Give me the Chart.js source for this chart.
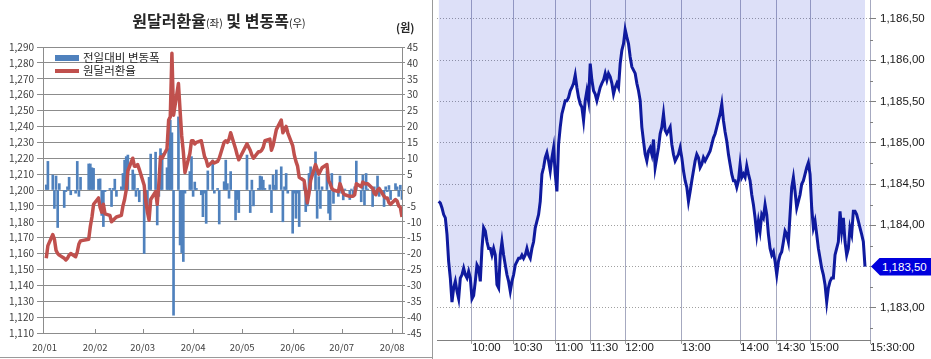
<!DOCTYPE html>
<html><head><meta charset="utf-8">
<script src="https://cdn.jsdelivr.net/npm/chart.js@4.4.1/dist/chart.umd.min.js"></script>
<style>
html,body{margin:0;padding:0;background:#fff;}
#wrap{position:relative;width:931px;height:359px;overflow:hidden;background:#fff;}
#L{position:absolute;left:0;top:0;width:433px;height:359px;}
#R{position:absolute;left:433px;top:0;width:498px;height:359px;}
canvas{display:block;}
.abs{position:absolute;white-space:nowrap;}
#title{left:0;top:8px;width:438px;text-align:center;font:bold 16px 'Noto Sans CJK KR',sans-serif;color:#262626;}
#title .s{font-size:10.5px;font-weight:normal;}
#unit{left:396px;top:19px;font:bold 11px 'Noto Sans CJK KR',sans-serif;color:#262626;}
.lg{font:11.5px 'Noto Sans CJK KR',sans-serif;color:#262626;}
#badge{left:871px;width:60px;height:18px;background:#0000dd;color:#fff;
 clip-path:polygon(0 50%,9px 0,100% 0,100% 100%,9px 100%);
 font:11.5px 'Liberation Sans',Arial,sans-serif;line-height:18px;padding-left:11px;box-sizing:border-box;}
</style></head><body>
<div id="wrap">
 <div id="L"><canvas id="cL" width="433" height="359"></canvas></div>
 <div id="R"><canvas id="cR" width="498" height="359"></canvas></div>
 <div class="abs" style="left:432px;top:0;width:1px;height:359px;background:#9a9a9a"></div>
 <div class="abs" style="left:0;top:357px;width:433px;height:1px;background:#9a9a9a"></div>
 <div class="abs" id="title">원달러환율<span class="s">(좌)</span> 및 변동폭<span class="s">(우)</span></div>
 <div class="abs" id="unit">(원)</div>
 <div class="abs" style="left:55px;top:55px;width:24px;height:6px;background:#4f81bd"></div>
 <div class="abs lg" style="left:83px;top:49px">전일대비 변동폭</div>
 <div class="abs" style="left:55px;top:69px;width:24px;height:3.5px;background:#c0504d"></div>
 <div class="abs lg" style="left:83px;top:62px">원달러환율</div>
 <div class="abs" id="badge">1,183,50</div>
</div>
<script>
// ---------- Left chart data ----------
const dates = [
 '01/02','01/03','01/06','01/07','01/08','01/09','01/10','01/13','01/14','01/15','01/16','01/17','01/20','01/21','01/22','01/23','01/28','01/29','01/30','01/31',
 '02/03','02/04','02/05','02/06','02/07','02/10','02/11','02/12','02/13','02/14','02/17','02/18','02/19','02/20','02/21','02/24','02/25','02/26','02/27','02/28',
 '03/02','03/03','03/04','03/05','03/06','03/09','03/10','03/11','03/12','03/13','03/16','03/17','03/18','03/19','03/20','03/23','03/24','03/25','03/26','03/27','03/30','03/31',
 '04/01','04/02','04/03','04/06','04/07','04/08','04/09','04/10','04/13','04/14','04/16','04/17','04/20','04/21','04/22','04/23','04/24','04/27','04/28','04/29',
 '05/04','05/06','05/07','05/08','05/11','05/12','05/13','05/14','05/15','05/18','05/19','05/20','05/21','05/22','05/25','05/26','05/27','05/28','05/29',
 '06/01','06/02','06/03','06/04','06/05','06/08','06/09','06/10','06/11','06/12','06/15','06/16','06/17','06/18','06/19','06/22','06/23','06/24','06/25','06/26','06/29','06/30',
 '07/01','07/02','07/03','07/06','07/07','07/08','07/09','07/10','07/13','07/14','07/15','07/16','07/17','07/20','07/21','07/22','07/23','07/24','07/27','07/28','07/29','07/30','07/31',
 '08/03','08/04','08/05','08/06','08/07'];
const rate = [
 1157,1165,1172,1169,1162,1160,1159,1157,1156,1157,1159,1160,1158,1161,1166,1168,1169,1177,1183,1191,
 1195,1189,1186,1191,1185,1184,1180,1181,1182,1183,1184,1190,1194,1200,1212,1220,1215,1215,1216,1213,
 1203,1193,1186,1181,1194,1199,1191,1204,1221,1220,1226,1244,1246,1286,1247,1267,1250,1234,1224,1211,1223,1231,
 1231,1229,1230,1231,1226,1221,1219,1215,1218,1217,1218,1220,1230,1231,1230,1232,1236,1226,1222,1219,
 1229,1225,1222,1220,1224,1224,1225,1227,1231,1232,1225,1228,1233,1238,1244,1236,1238,1240,1236,
 1228,1222,1218,1215,1208,1206,1199,1192,1198,1206,1216,1213,1210,1212,1214,1216,1206,1204,1201,1200,1199,1204,
 1201,1198,1197,1196,1196,1196,1197,1204,1202,1205,1204,1204,1204,1201,1198,1197,1200,1201,1196,1195,1195,1192,1191,
 1194,1193,1190,1189,1183];
const change = [
 1.6,9,4.7,-5.8,4.4,-11.8,2,-5.5,-0.5,1,4,-1.5,-1,9,-2,4,8.2,8.2,7,6.8,
 3.4,3.5,-8,-11.5,-0.5,0.5,-5.2,0.5,3.4,-2,1,5.2,9.4,10.5,11,6.3,5,-2,0.5,-3.7,
 -20,-2.5,-5,4,11.3,11.9,-11,-2,13,11.5,7,13,22,18,-39.4,23,-17.3,-19.7,-22.5,-1,5.8,10.5,
 -2,2.5,0.5,-1.5,-8.4,-1,-10.5,6,9.4,-1,0.5,-10.7,2.6,9.4,2,-2.6,5.8,-9.4,-3,-7.1,
 11,-7.1,3.1,-5,0.5,4.4,4.2,3.1,0.5,1.6,-7.1,4.7,1.5,6.3,7.3,-10,1,5.2,-1,
 -13.6,-1,-8.9,-1,-11.5,2,-6.8,-5,5.2,7.3,12,-8.9,4.2,-5.8,1,5.8,-7.3,-9.4,5.2,-4.2,-2,4.4,
 -1,-3.1,0.3,-3,0.3,-2,1,9.1,-3.7,4.7,-4.7,5.2,0.3,-5.2,1,-1,4.4,-2,-5.2,1,-0.5,1.4,-3,
 2,1,-2,1.5,-3];
const monthStarts = ['01/01','02/01','03/01','04/01','05/01','06/01','07/01','08/01'];
const monthLabels = ['20/01','20/02','20/03','20/04','20/05','20/06','20/07','20/08'];

// ---------- Right chart data ----------
const fxIntraday = [
 1184.29,1184.27,1184.21,1184.13,1184.09,1183.89,1183.56,1183.36,1183.07,1183.24,
 1183.32,1183.20,1183.11,1183.36,1183.40,1183.48,1183.40,1183.36,1183.44,1183.36,
 1183.11,1183.15,1183.32,1183.52,1183.48,1183.32,1183.72,1183.97,1183.93,1183.80,
 1183.72,1183.72,1183.64,1183.72,1183.64,1183.28,1183.24,1183.64,1183.80,1183.64,
 1183.52,1183.40,1183.32,1183.20,1183.32,1183.40,1183.52,1183.56,1183.60,1183.60,
 1183.64,1183.60,1183.64,1183.72,1183.64,1183.60,1183.72,1183.80,1183.97,1184.05,
 1184.13,1184.29,1184.62,1184.70,1184.82,1184.88,1184.78,1184.66,1184.82,1184.94,
 1184.62,1184.41,1184.98,1185.19,1185.35,1185.43,1185.51,1185.51,1185.55,1185.63,
 1185.67,1185.72,1185.82,1185.67,1185.55,1185.47,1185.43,1185.27,1185.51,1185.63,
 1185.51,1185.96,1185.76,1185.63,1185.59,1185.51,1185.59,1185.67,1185.72,1185.76,
 1185.84,1185.76,1185.84,1185.80,1185.72,1185.59,1185.67,1185.72,1185.67,1185.96,
 1186.12,1186.20,1186.37,1186.28,1186.20,1186.04,1185.92,1185.88,1185.84,1185.72,
 1185.63,1185.51,1185.19,1185.02,1184.86,1184.78,1184.90,
 1184.94,1184.86,1185.04,1184.70,1184.82,1184.94,1185.11,1185.19,1185.35,1185.15,
 1185.11,1185.15,1185.19,1184.98,1184.86,1184.78,1184.82,1184.86,1184.94,1184.82,
 1184.66,1184.54,1184.46,1184.29,1184.41,1184.54,1184.66,1184.78,1184.86,1184.82,
 1184.70,1184.74,1184.82,1184.78,1184.82,1184.86,1184.90,1184.98,1185.06,1185.11,
 1185.19,1185.27,1185.35,1185.47,1185.27,1185.13,1185.02,1184.86,1184.74,1184.62,
 1184.54,1184.54,1184.46,1184.54,1184.74,1184.58,1184.62,1184.58,1184.72,1184.62,
 1184.54,1184.37,1184.25,1184.09,1183.89,1184.05,1183.93,1184.13,1184.09,1184.25,
 1184.13,1183.89,1183.72,1183.64,1183.68,1183.56,1183.40,1183.56,1183.64,1183.68,
 1183.80,1183.93,1183.89,1183.80,1184.13,1184.46,1184.58,1184.41,1184.21,1184.29,
 1184.37,1184.50,1184.54,1184.62,1184.70,1184.76,1184.62,1184.21,1183.97,1184.05,
 1183.89,1183.72,1183.60,1183.48,1183.40,1183.28,1183.07,1183.24,1183.32,1183.36,
 1183.36,1183.64,1183.72,1183.80,1184.17,1183.93,1184.09,1183.80,1183.64,1183.72,
 1183.97,1183.89,1184.17,1184.17,1184.13,1184.05,1183.97,1183.89,1183.80,1183.50];
const timeLabels = ['10:00','10:30','11:00','11:30','12:00','13:00','14:00','14:30','15:00','15:30:00'];
const timePos = [20,45,70,91,112,146,181,203,223,259];
const rightTicks = [1183.0,1183.5,1184.0,1184.5,1185.0,1185.5,1186.0,1186.5];
const rightMinor = [1182.75,1183.25,1183.75,1184.25,1184.75,1185.25,1185.75,1186.25];

// ---------- helpers ----------
const dayNum = s => { const [m,d] = s.split('/').map(Number); return (Date.UTC(2020,m-1,d) - Date.UTC(2020,0,1))/864e5; };
const xs = dates.map(dayNum);
const monthDays = monthStarts.map(dayNum);
const fixBox = (w,h) => s => { if (w!=null) s.width = w; if (h!=null) s.height = h; s.paddingTop=0; s.paddingBottom=0; s.paddingLeft=0; s.paddingRight=0; };
const KR = "'Noto Sans CJK KR', sans-serif";
const SANS = "'Liberation Sans', Arial, sans-serif";
const fmtR = v => { const s = v.toFixed(2); const [i,d] = s.split('.'); return i.slice(0,1)+','+i.slice(1)+','+d; };

// inside month tick marks for left chart
const monthMarks = {
  id:'monthMarks',
  afterDraw(c){
    const ctx=c.ctx, sx=c.scales.x, b=c.chartArea.bottom;
    ctx.save(); ctx.strokeStyle='#8c8c8c'; ctx.lineWidth=1;
    monthDays.slice(1).forEach(d=>{ const x=Math.round(sx.getPixelForValue(d))+0.5; ctx.beginPath(); ctx.moveTo(x,b-4); ctx.lineTo(x,b); ctx.stroke(); });
    ctx.restore();
  }
};

new Chart(document.getElementById('cL'), {
  type:'bar',
  data:{ datasets:[
    { type:'line', label:'원달러환율', data: xs.map((x,i)=>({x, y:rate[i]})), yAxisID:'y',
      borderColor:'#c0504d', borderWidth:3.5, pointRadius:0, tension:0, borderJoinStyle:'round' },
    { type:'bar', label:'전일대비 변동폭', data: xs.map((x,i)=>({x, y:change[i]})), yAxisID:'y2',
      backgroundColor:'#4f81bd', barThickness:2 }
  ]},
  options:{
    responsive:false, animation:false, devicePixelRatio:1,
    layout:{ padding:{ top:47, left:0, right:0, bottom:0 } },
    plugins:{ legend:{display:false}, tooltip:{enabled:false} },
    scales:{
      x:{ type:'linear', offset:false, min:-1, max:219, afterFit: fixBox(null,26),
          afterBuildTicks: s => { s.ticks = monthDays.map(v=>({value:v})); },
          grid:{ drawOnChartArea:false, drawTicks:false, offset:false },
          border:{ color:'#8c8c8c' },
          ticks:{ autoSkip:false, maxRotation:0, padding:9, color:'#404040', font:{family:KR,size:9.5},
                  callback:(v,i)=>monthLabels[i] } },
      y:{ position:'left', min:1110, max:1290, afterFit: fixBox(43,null),
          grid:{ color:'#8c8c8c', tickLength:6 }, border:{ color:'#8c8c8c' },
          ticks:{ stepSize:10, padding:3, color:'#404040', font:{family:KR,size:10},
                  callback: v => v.toLocaleString('en-US') } },
      y2:{ position:'right', min:-45, max:45, afterFit: fixBox(31,null),
          grid:{ drawOnChartArea:false, color:'#8c8c8c', tickLength:3 }, border:{ color:'#8c8c8c' },
          ticks:{ stepSize:5, padding:2, color:'#404040', font:{family:KR,size:10} } }
    }
  },
  plugins:[monthMarks]
});

// minor ticks on right axis
const minorTicks = {
  id:'minorTicks',
  afterDraw(c){
    const ctx=c.ctx, sy=c.scales.y, r=c.chartArea.right;
    ctx.save(); ctx.strokeStyle='#808080'; ctx.lineWidth=1;
    rightMinor.forEach(v=>{ const y=Math.round(sy.getPixelForValue(v))+0.5; if(y<c.chartArea.bottom){ ctx.beginPath(); ctx.moveTo(r,y); ctx.lineTo(r+3,y); ctx.stroke(); } });
    ctx.restore();
  }
};

const chartR = new Chart(document.getElementById('cR'), {
  type:'line',
  data:{ datasets:[{ data: fxIntraday.map((v,i)=>({x:i, y:v})), borderColor:'#0f1a9e', borderWidth:3,
          pointRadius:0, tension:0, fill:'end', backgroundColor:'rgba(28,48,208,0.15)' }] },
  options:{
    responsive:false, animation:false, devicePixelRatio:1,
    layout:{ padding:{ top:0, left:4, right:0, bottom:0 } },
    plugins:{ legend:{display:false}, tooltip:{enabled:false} },
    scales:{
      x:{ type:'linear', min:-1, max:259, afterFit: fixBox(null,19),
          afterBuildTicks: s => { s.ticks = timePos.map(v=>({value:v})); },
          grid:{ color:'#a6a9c0', tickLength:4, tickColor:'#a0a0a0' },
          border:{ color:'#808080' },
          ticks:{ autoSkip:false, maxRotation:0, align:'start', padding:-3, color:'#1a1a1a',
                  font:{family:SANS,size:11.5}, callback:(v,i)=>timeLabels[i] } },
      y:{ position:'right', min:1182.61, max:1186.73, afterFit: fixBox(61,null),
          afterBuildTicks: s => { s.ticks = rightTicks.map(v=>({value:v})); },
          grid:{ color:'#a0a0a0', tickLength:6, tickColor:'#808080', tickBorderDash:[] },
          border:{ display:false, dash:[1,2] },
          ticks:{ padding:4, color:'#1a1a1a', font:{family:SANS,size:11.5}, callback: v => fmtR(v) } }
    }
  },
  plugins:[minorTicks]
});

const lastV = fxIntraday[fxIntraday.length-1];
const by = chartR.scales.y.getPixelForValue(lastV);
const badge = document.getElementById('badge');
badge.style.top = (by - 9) + 'px';
badge.textContent = fmtR(lastV);
</script>
</body></html>
